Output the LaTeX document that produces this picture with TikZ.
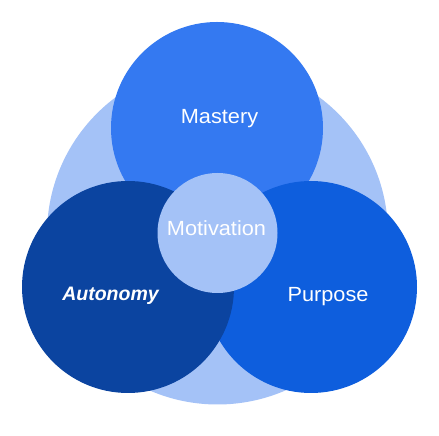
\documentclass[tikz,border=0pt]{standalone}
\usepackage{fontspec}
\setmainfont{Liberation Sans}
\newfontfamily\widesans[FakeStretch=1.06]{Liberation Sans}
\definecolor{bgblue}{HTML}{A4C2F7}
\definecolor{mastblue}{HTML}{3479F1}
\definecolor{purpblue}{HTML}{0E5EDD}
\definecolor{autoblue}{HTML}{0B44A0}
\definecolor{motblue}{HTML}{A4C2F7}
\begin{document}
\begin{tikzpicture}[x=1pt,y=1pt,
  disc/.style={circle,inner sep=0pt,draw=none},
  lbl/.style={text=white,anchor=base,inner sep=0pt,font=\widesans\fontsize{20.5}{24}\selectfont}]
\useasboundingbox (0,0) rectangle (439,436);
\node[disc,fill=bgblue,minimum size=341] (bg) at (217.5,202) {};
\node[disc,fill=mastblue,minimum size=212] (mastery) at (217,308) {};
\node[disc,fill=purpblue,minimum size=212] (purpose) at (311,149) {};
\node[disc,fill=autoblue,minimum size=212] (autonomy) at (128,149) {};
\node[disc,fill=motblue,minimum size=120] (motivation) at (217.5,203) {};
\node[lbl] (tmastery) at (219.5,312) {Mastery};
\node[lbl] (tmotivation) at (216.5,200.7) {Motivation};
\node[lbl,font=\fontsize{19.5}{24}\selectfont\bfseries\itshape] (tautonomy) at (110.5,135) {Autonomy};
\node[lbl] (tpurpose) at (328,134.3) {Purpose};
\end{tikzpicture}
\end{document}
